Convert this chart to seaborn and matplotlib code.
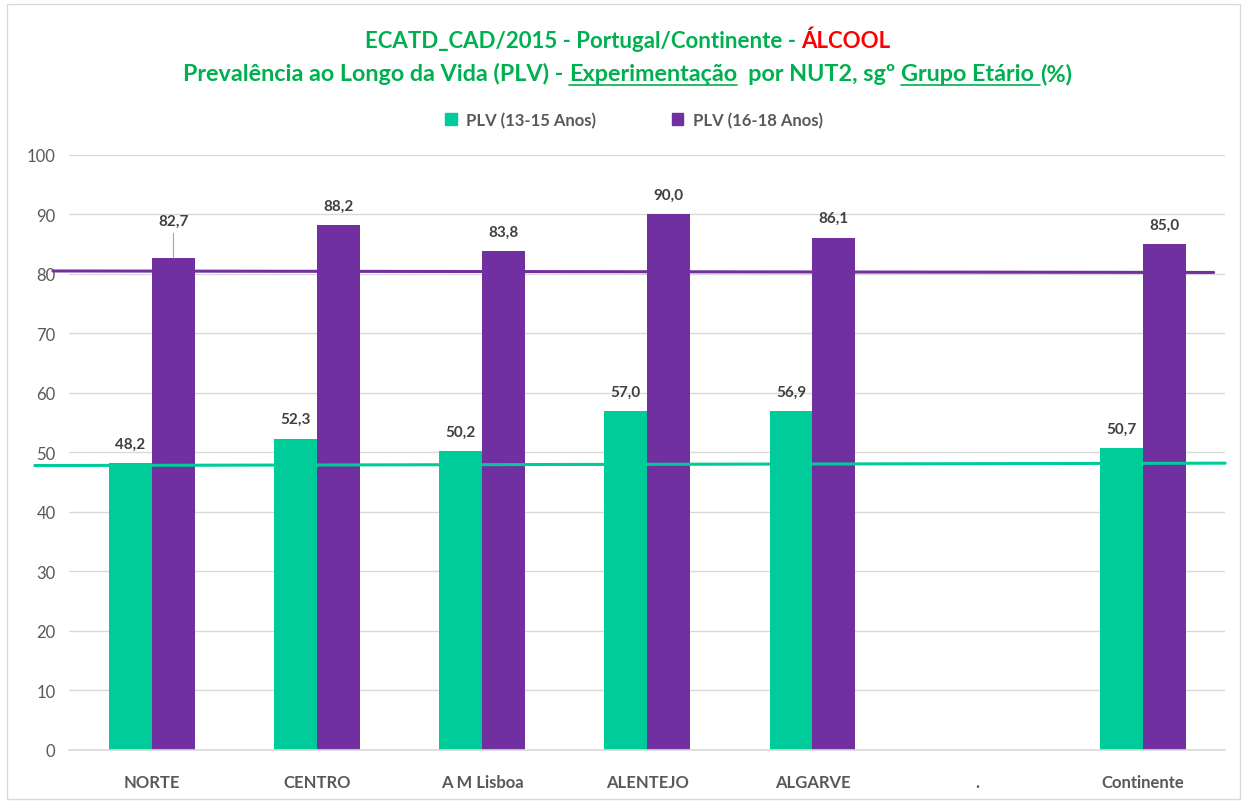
import numpy as np
import pandas as pd
import matplotlib
matplotlib.use('Agg')
import matplotlib.pyplot as plt
from matplotlib.patches import Patch
import seaborn as sns

regioes = ['NORTE', 'CENTRO', 'A M Lisboa', 'ALENTEJO', 'ALGARVE', '.', 'Continente']
plv_13_15 = [48.2, 52.3, 50.2, 57.0, 56.9, np.nan, 50.7]
plv_16_18 = [82.7, 88.2, 83.8, 90.0, 86.1, np.nan, 85.0]
series = ['PLV (13-15 Anos)', 'PLV (16-18 Anos)']
# reference lines drawn across the chart (start, end)
ref_13_15 = [47.8, 48.2]
ref_16_18 = [80.5, 80.25]

VERDE = '#00CC99'
ROXO = '#7030A0'
CINZA = '#595959'

df = pd.DataFrame({
    'regiao': regioes * 2,
    'valor': plv_13_15 + plv_16_18,
    'serie': [series[0]] * len(regioes) + [series[1]] * len(regioes),
})

sns.set_theme(style='white')
plt.rcParams['font.family'] = ['Lato', 'DejaVu Sans']

fig = plt.figure(figsize=(12.45, 8.03), dpi=100)
ax = fig.add_axes([0.0558, 0.0648, 0.9283, 0.741])

sns.barplot(data=df, x='regiao', y='valor', hue='serie', order=regioes,
            hue_order=series, palette=[VERDE, ROXO], width=0.52,
            saturation=1, legend=False, linewidth=0, ax=ax)

ax.set_xlim(-0.5, len(regioes) - 0.5)
ax.set_ylim(0, 100)
ax.set_yticks(range(0, 101, 10))
ax.yaxis.grid(True, color='#D9D9D9', linewidth=1)
ax.set_axisbelow(True)
for s in ['left', 'right', 'top']:
    ax.spines[s].set_visible(False)
ax.spines['bottom'].set_color('#D9D9D9')
ax.spines['bottom'].set_linewidth(1.2)
ax.set_xlabel('')
ax.set_ylabel('')
ax.tick_params(axis='y', length=0, pad=10, labelsize=12, labelcolor=CINZA)
ax.tick_params(axis='x', length=0, pad=17, labelsize=12, labelcolor=CINZA)
for t in ax.get_xticklabels():
    t.set_fontweight('bold')

# reference lines
ax.plot([-0.6, 6.43], ref_16_18, color=ROXO, lw=2.2, clip_on=False, zorder=3)
ax.plot([-0.71, 6.5], ref_13_15, color=VERDE, lw=2.2, clip_on=False, zorder=3)

# data labels
for cont in ax.containers:
    for bar in cont:
        h = bar.get_height()
        if np.isnan(h):
            continue
        cx = bar.get_x() + bar.get_width() / 2
        txt = f'{h:.1f}'.replace('.', ',')
        if abs(h - 82.7) < 1e-6:
            ax.annotate(txt, xy=(cx, h), xytext=(0, 22), textcoords='offset points',
                        ha='center', va='bottom', fontsize=11, fontweight='bold',
                        color='#404040',
                        arrowprops=dict(arrowstyle='-', color='#A6A6A6', lw=0.8,
                                        shrinkA=2, shrinkB=0))
        else:
            ax.annotate(txt, xy=(cx, h), xytext=(0, 9), textcoords='offset points',
                        ha='center', va='bottom', fontsize=11, fontweight='bold',
                        color='#404040')

# legend
handles = [Patch(color=VERDE), Patch(color=ROXO)]
leg = fig.legend(handles, series, loc='center', bbox_to_anchor=(634 / 1245, 1 - 121 / 803),
                 ncol=2, frameon=False, fontsize=12, handlelength=0.7, handleheight=0.7,
                 columnspacing=4.5, handletextpad=0.6)
for t in leg.get_texts():
    t.set_color(CINZA)
    t.set_fontweight('bold')


def titulo(pecas, y, size):
    """pecas: list of (texto, cor, sublinhado)"""
    fig.canvas.draw()
    r = fig.canvas.get_renderer()
    objs = []
    x = 0
    for texto, cor, sub in pecas:
        t = fig.text(x, y, texto, color=cor, fontsize=size, fontweight='bold',
                     ha='left', va='baseline')
        bb = t.get_window_extent(renderer=r)
        w = bb.width / fig.bbox.width
        objs.append((t, x, w, sub, cor))
        x += w
    x0 = 0.5 - x / 2 + 0.004
    for t, xx, w, sub, cor in objs:
        t.set_x(x0 + xx)
        if sub:
            fig.add_artist(plt.Line2D([x0 + xx, x0 + xx + w], [y - 0.006, y - 0.006],
                                      color=cor, lw=1.2, transform=fig.transFigure))


VERDE_T = '#00B050'
titulo([('ECATD_CAD/2015 - Portugal/Continente - ', VERDE_T, False),
        ('ÁLCOOL', '#FF0000', False)], 1 - 48 / 803, 16)
titulo([('Prevalência ao Longo da Vida (PLV) - ', VERDE_T, False),
        ('Experimentação', VERDE_T, True),
        ('  por NUT2, sgº ', VERDE_T, False),
        ('Grupo Etário ', VERDE_T, True),
        ('(%)', VERDE_T, False)], 1 - 81 / 803, 16.8)

# chart border
fig.add_artist(plt.Rectangle((0.006, 0.004), 0.99, 0.99, fill=False,
                             edgecolor='#D9D9D9', lw=1, transform=fig.transFigure))

fig.savefig('out.png', dpi=100)
